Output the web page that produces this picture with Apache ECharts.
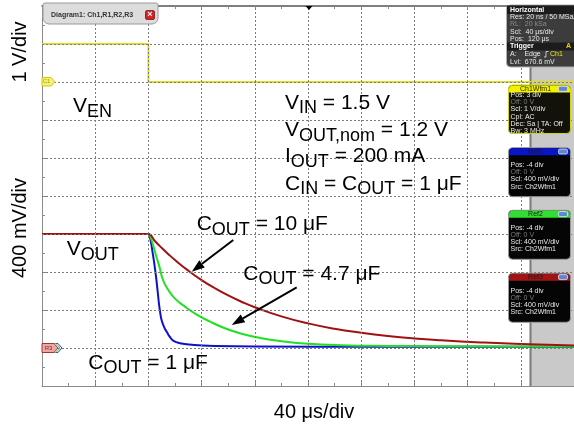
<!DOCTYPE html>
<html>
<head>
<meta charset="utf-8">
<script src="https://cdn.jsdelivr.net/npm/echarts@6/dist/echarts.min.js"></script>
<style>
  html, body { margin: 0; padding: 0; background: #fff; }
  #main { width: 574px; height: 432px; }
</style>
</head>
<body>
<div id="main"></div>
<script>
// time in µs (40 µs/div), VOUT in mV (400 mV/div), VEN in V (1 V/div)
const gridX = [40, 80, 120, 160, 200, 240, 280, 320, 360];
const gridY = [0, 400, 800, 1200, 1600, 2000, 2400, 2800, 3200];

const enT = [0, 80, 80, 400];
const enV = [1, 1, 0, 0];

const c1T = [0, 79, 80, 81, 82, 83, 84, 85, 86, 87, 88, 89, 90, 92, 94, 96, 98, 101, 105, 110, 118, 130, 160, 250, 400];
const c1V = [1200, 1200, 1200, 1170, 1110, 1020, 930, 830, 720, 590, 460, 360, 290, 215, 165, 120, 85, 62, 48, 38, 28, 20, 15, 14, 14];

const c47T = [0, 79, 80, 82, 84, 86, 88, 91, 95, 100, 108, 116, 126, 138, 150, 165, 180, 200, 225, 260, 300, 350, 400];
const c47V = [1200, 1200, 1200, 1150, 1060, 960, 870, 716, 610, 520, 430, 355, 280, 205, 150, 103, 72, 45, 30, 22, 19, 17, 16];

const c10T = [0, 79, 80, 85, 90, 95, 100, 110, 120, 130, 140, 150, 160, 180, 200, 220, 240, 260, 280, 300, 330, 360, 400];
const c10V = [1200, 1200, 1200, 1124, 1054, 988, 926, 814, 715, 629, 553, 487, 429, 333, 259, 202, 160, 126, 100, 81, 59, 42, 26];

const zip = (t, v) => t.map((x, i) => [x, v[i]]);

const FONT = 'Liberation Sans';
const rich = {
  m: { fontSize: 21, fontFamily: FONT, lineHeight: 21, verticalAlign: 'top', fill: '#000' },
  s: { fontSize: 18, fontFamily: FONT, lineHeight: 18, verticalAlign: 'top', fill: '#000', padding: [7, 0, 0, 0] }
};

function label(x, y, text) {
  return { type: 'text', x, y, z: 10, style: { text, rich, fill: '#000', font: '21px ' + FONT, align: 'left', verticalAlign: 'top' } };
}

function arrow(x1, y1, x2, y2) {
  const dx = x2 - x1, dy = y2 - y1, L = Math.hypot(dx, dy);
  const ux = dx / L, uy = dy / L, hl = 13, hw = 4.5;
  const bx = x2 - ux * hl, by = y2 - uy * hl;
  return [
    { type: 'polyline', z: 10, shape: { points: [[x1, y1], [bx, by]] }, style: { stroke: '#000', lineWidth: 2 } },
    { type: 'polygon', z: 10, shape: { points: [[x2, y2], [bx - uy * hw, by + ux * hw], [bx + uy * hw, by - ux * hw]] }, style: { fill: '#000' } }
  ];
}

function panel(top, h, head, headFill, border, body, first, lines) {
  const x = 508.5, w = 62;
  const els = [
    { type: 'rect', z: 20, shape: { x, y: top, width: w, height: h, r: 4 }, style: { fill: body, stroke: border, lineWidth: 1 } },
    { type: 'rect', z: 21, shape: { x: x + 0.5, y: top + 0.5, width: w - 1, height: 7, r: [4, 4, 0, 0] }, style: { fill: headFill } },
    { type: 'text', z: 22, x: x + w / 2 - 4, y: top + 4, style: { text: head, fill: '#1a1a1a', font: '7px ' + FONT, align: 'center', verticalAlign: 'middle' } },
    { type: 'rect', z: 22, shape: { x: x + w - 12, y: top + 1.3, width: 9, height: 5, r: 1.5 }, style: { fill: '#5f86d6', stroke: '#dfe6f5', lineWidth: 0.8 } }
  ];
  lines.forEach((ln, i) => {
    els.push({ type: 'text', z: 22, x: x + 2, y: top + first + i * 7.2,
      style: { text: ln, fill: ln.startsWith('Off') ? '#7a7a7a' : '#ececec', font: '7px ' + FONT, verticalAlign: 'middle' } });
  });
  return els;
}

const refLines = ['Pos: -4 div', 'Off: 0 V', 'Scl: 400 mV/div', 'Src: Ch2Wfm1'];

const horiz = [
  { type: 'rect', z: 20, shape: { x: 506.5, y: 5, width: 80, height: 62, r: 4 }, style: { fill: '#3c3c3c', stroke: '#b0b0b0', lineWidth: 1 } },
  { type: 'rect', z: 21, shape: { x: 507, y: 5.5, width: 79, height: 8.5 }, style: { fill: '#1c1c1c' } },
  { type: 'text', z: 22, x: 510, y: 9.8, style: { text: 'Horizontal', fill: '#fff', font: 'bold 7px ' + FONT, verticalAlign: 'middle' } },
  { type: 'text', z: 22, x: 510, y: 17, style: { text: 'Res: 20 ns / 50 MSa/s', fill: '#e8e8e8', font: '7px ' + FONT, verticalAlign: 'middle' } },
  { type: 'text', z: 22, x: 510, y: 24.3, style: { text: 'RL:  20 kSa', fill: '#8a8a8a', font: '7px ' + FONT, verticalAlign: 'middle' } },
  { type: 'text', z: 22, x: 510, y: 31.6, style: { text: 'Scl:  40 μs/div', fill: '#e8e8e8', font: '7px ' + FONT, verticalAlign: 'middle' } },
  { type: 'text', z: 22, x: 510, y: 38.9, style: { text: 'Pos:  120 μs', fill: '#e8e8e8', font: '7px ' + FONT, verticalAlign: 'middle' } },
  { type: 'rect', z: 21, shape: { x: 507, y: 42.5, width: 79, height: 8 }, style: { fill: '#1c1c1c' } },
  { type: 'text', z: 22, x: 510, y: 46.5, style: { text: 'Trigger', fill: '#fff', font: 'bold 7px ' + FONT, verticalAlign: 'middle' } },
  { type: 'text', z: 22, x: 566, y: 46.5, style: { text: 'A', fill: '#e8d000', font: 'bold 7px ' + FONT, verticalAlign: 'middle' } },
  { type: 'text', z: 22, x: 510, y: 54.3, style: { text: 'A:    Edge', fill: '#e8e8e8', font: '7px ' + FONT, verticalAlign: 'middle' } },
  { type: 'polyline', z: 22, shape: { points: [[544, 57], [546, 57], [546, 51.5], [548.5, 51.5]] }, style: { stroke: '#e8e8e8', lineWidth: 0.8 } },
  { type: 'text', z: 22, x: 550, y: 54.3, style: { text: 'Ch1', fill: '#f0e000', font: '7px ' + FONT, verticalAlign: 'middle' } },
  { type: 'text', z: 22, x: 510, y: 61.6, style: { text: 'Lvl:  670.6 mV', fill: '#e8e8e8', font: '7px ' + FONT, verticalAlign: 'middle' } }
];

const tab = [
  { type: 'rect', z: 20, shape: { x: 43, y: 3, width: 115, height: 21, r: [2, 2, 6, 6] }, style: { fill: '#dcdcdc', stroke: '#9a9a9a', lineWidth: 1 } },
  { type: 'text', z: 21, x: 51, y: 15, style: { text: 'Diagram1: Ch1,R1,R2,R3', fill: '#333', font: 'bold 7px ' + FONT, verticalAlign: 'middle' } },
  { type: 'rect', z: 21, shape: { x: 145.5, y: 10.5, width: 9, height: 9, r: 1.5 }, style: { fill: '#d02424', stroke: '#8a1010', lineWidth: 0.8 } },
  { type: 'text', z: 22, x: 150, y: 15, style: { text: '×', fill: '#fff', font: 'bold 9px ' + FONT, align: 'center', verticalAlign: 'middle' } }
];

const markers = [
  { type: 'polygon', z: 12, shape: { points: [[42, 77.5], [51, 77.5], [55, 81.8], [51, 86], [42, 86]] }, style: { fill: '#f2f080', stroke: '#cccc00', lineWidth: 1 } },
  { type: 'text', z: 13, x: 46.5, y: 81.8, style: { text: 'C1', fill: '#b0a000', font: '6px ' + FONT, align: 'center', verticalAlign: 'middle' } },
  { type: 'polygon', z: 11, shape: { points: [[46, 343.5], [58, 343.5], [62, 348], [58, 352.5], [46, 352.5]] }, style: { fill: 'rgba(0,0,0,0)', stroke: '#3040e0', lineWidth: 1 } },
  { type: 'polygon', z: 11, shape: { points: [[44, 343.5], [56, 343.5], [60, 348], [56, 352.5], [44, 352.5]] }, style: { fill: 'rgba(0,0,0,0)', stroke: '#30d030', lineWidth: 1 } },
  { type: 'polygon', z: 12, shape: { points: [[42, 343.5], [54, 343.5], [58, 348], [54, 352.5], [42, 352.5]] }, style: { fill: '#e8a8a8', stroke: '#b03030', lineWidth: 1 } },
  { type: 'text', z: 13, x: 48.5, y: 348, style: { text: 'R3', fill: '#902020', font: '6px ' + FONT, align: 'center', verticalAlign: 'middle' } },
  { type: 'polygon', z: 12, shape: { points: [[305.5, 6], [312.5, 6], [309, 10]] }, style: { fill: '#000' } }
];

const band = [
  { type: 'rect', z: 1, shape: { x: 530, y: 67, width: 44, height: 319 }, style: { fill: '#c9c9c9' } },
  { type: 'rect', z: 1, shape: { x: 529.5, y: 67, width: 2, height: 319 }, style: { fill: '#7a7a7a' } }
];

const texts = [
  label(73, 95.6, '{m|V}{s|EN}'),
  label(285, 92.3, '{m|V}{s|IN}{m| = 1.5 V}'),
  label(285, 120, '{m|V}{s|OUT,nom}{m| = 1.2 V}'),
  label(285, 145.6, '{m|I}{s|OUT}{m| = 200 mA}'),
  label(285, 173.3, '{m|C}{s|IN}{m| = C}{s|OUT}{m| = 1 μF}'),
  label(196.7, 214, '{m|C}{s|OUT}{m| = 10 μF}'),
  label(243.3, 263.3, '{m|C}{s|OUT}{m| = 4.7 μF}'),
  label(66.7, 239, '{m|V}{s|OUT}'),
  label(88.3, 352.3, '{m|C}{s|OUT}{m| = 1 μF}'),
  { type: 'text', z: 10, x: 20, y: 52, rotation: Math.PI / 2, style: { text: '1 V/div', fill: '#000', font: '20px ' + FONT, align: 'center', verticalAlign: 'middle' } },
  { type: 'text', z: 10, x: 20, y: 228, rotation: Math.PI / 2, style: { text: '400 mV/div', fill: '#000', font: '20px ' + FONT, align: 'center', verticalAlign: 'middle' } },
  { type: 'text', z: 10, x: 314, y: 412, style: { text: '40 μs/div', fill: '#000', font: '20px ' + FONT, align: 'center', verticalAlign: 'middle' } }
];

const edgeAxis = (pos, color, width) => ({
  type: 'value', position: pos,
  axisLine: { show: true, onZero: false, lineStyle: { color, width } },
  axisTick: { show: true, inside: true, length: 4, lineStyle: { color: '#8a8a8a' } },
  minorTick: { show: true, splitNumber: 2, length: 3, lineStyle: { color: '#8a8a8a' } },
  axisLabel: { show: false },
  splitLine: { show: false }
});

// grid drawn as marker lines on the data scales (start/end pairs)
const gridLines = gridX.map(v => [{ coord: [v, -400] }, { coord: [v, 3600] }])
  .concat(gridY.map(v => [{ coord: [0, v] }, { coord: [400, v] }]));

const chart = echarts.init(document.getElementById('main'));
chart.setOption({
  animation: false,
  grid: { left: 42, top: 6, width: 533, height: 380 },
  xAxis: [
    Object.assign(edgeAxis('bottom', '#8a8a8a', 1), { min: 0, max: 400, interval: 40 }),
    Object.assign(edgeAxis('top', '#555', 1.5), { min: 0, max: 400, interval: 40 })
  ],
  yAxis: [
    Object.assign(edgeAxis('left', '#8a8a8a', 1), { min: -400, max: 3600, interval: 400 }),
    { type: 'value', min: -8, max: 2, interval: 1, show: false, splitLine: { show: false } }
  ],
  series: [
    { name: 'grid', type: 'line', data: [[0, -400], [400, -400]], symbol: 'none', lineStyle: { opacity: 0 }, z: 1,
      markLine: {
        silent: true, symbol: 'none', animation: false,
        label: { show: false },
        lineStyle: { color: '#7c7c7c', type: [2, 2], width: 1 },
        emphasis: { disabled: true },
        data: gridLines
      } },
    { name: 'VEN', type: 'line', yAxisIndex: 1, data: zip(enT, enV), symbol: 'none',
      lineStyle: { color: '#dede1c', width: 2 } },
    { name: 'COUT = 1 µF', type: 'line', data: zip(c1T, c1V), symbol: 'none', smooth: 0.5,
      lineStyle: { color: '#1010c8', width: 2 } },
    { name: 'COUT = 4.7 µF', type: 'line', data: zip(c47T, c47V), symbol: 'none', smooth: 0.5,
      lineStyle: { color: '#22e022', width: 2 } },
    { name: 'COUT = 10 µF', type: 'line', data: zip(c10T, c10V), symbol: 'none', smooth: 0.5,
      lineStyle: { color: '#a01212', width: 2 } }
  ],
  graphic: [].concat(
    band,
    texts,
    arrow(233.3, 240, 191.7, 271.7),
    arrow(296.7, 287.3, 231.7, 325),
    markers,
    tab,
    horiz,
    panel(85, 48.5, 'Ch1Wfm1', '#f2f200', '#d4d400', '#12120a', 10, ['Pos: 3 div', 'Off: 0 V', 'Scl: 1 V/div', 'Cpl: AC', 'Dec: Sa | TA: Off', 'Bw: 3 MHz']),
    panel(147.7, 49, 'Ref1', '#0a14c8', '#9a9a9a', '#050505', 17.3, refLines),
    panel(210.3, 49, 'Ref2', '#30e030', '#9a9a9a', '#050505', 17.3, refLines),
    panel(273.3, 49, 'Ref3', '#a01414', '#9a9a9a', '#050505', 17.3, refLines)
  )
});
</script>
</body>
</html>
